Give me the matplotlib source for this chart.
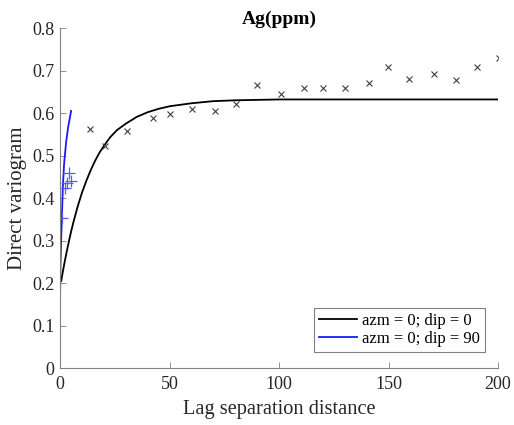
import matplotlib
matplotlib.use("Agg")
import matplotlib.pyplot as plt

# Experimental variogram, azm=0 dip=0 (x markers)
lag_h = [13.6, 20.4, 30.4, 42.3, 50.2, 60.0, 70.9, 80.2, 90.0, 100.7,
         111.4, 119.9, 130.3, 141.0, 149.8, 159.4, 170.6, 180.9, 190.2, 200.3]
gam_h = [0.562, 0.523, 0.558, 0.589, 0.598, 0.609, 0.605, 0.621, 0.665, 0.645,
         0.660, 0.660, 0.658, 0.671, 0.708, 0.679, 0.692, 0.678, 0.709, 0.729]

# Model curve azm=0 dip=0
mod_h_x = [0.5, 1, 2, 3, 4, 5, 6, 8, 10, 12, 14, 16, 18, 20, 23, 26, 30, 35, 40,
           45, 50, 60, 70, 80, 100, 150, 200]
mod_h_y = [0.205, 0.220, 0.248, 0.274, 0.298, 0.321, 0.342, 0.380, 0.413, 0.441,
           0.466, 0.488, 0.507, 0.523, 0.544, 0.560, 0.575, 0.591, 0.602, 0.610,
           0.616, 0.623, 0.628, 0.630, 0.632, 0.632, 0.632]

# Experimental variogram, azm=0 dip=90 (+ markers)
lag_v = [1.0, 2.2, 3.2, 4.1, 5.0]
gam_v = [0.352, 0.424, 0.436, 0.460, 0.440]

# Model curve azm=0 dip=90
mod_v_x = [0.0, 0.15, 0.45, 0.8, 1.25, 1.8, 2.7, 3.6, 5.0]
mod_v_y = [0.180, 0.238, 0.301, 0.356, 0.427, 0.480, 0.530, 0.565, 0.605]

plt.rcParams['font.family'] = ['Liberation Serif', 'DejaVu Serif']

fig = plt.figure(figsize=(5.14, 4.25), dpi=100)
ax = fig.add_axes([0.117, 0.134, 0.852, 0.80])

ax.plot(mod_h_x, mod_h_y, color='black', lw=1.3, label='azm = 0; dip = 0')
ax.plot(mod_v_x, mod_v_y, color='#1a1aff', lw=1.3, label='azm = 0; dip = 90')
ax.plot(lag_h, gam_h, linestyle='none', marker='x', color='#404040', ms=5, mew=0.8)
ax.plot(lag_v, gam_v, linestyle='none', marker='+', color='#5a5aff', ms=8, mew=0.9)

ax.set_xlim(0, 200)
ax.set_ylim(0, 0.8)
ax.set_xticks([0, 50, 100, 150, 200])
ax.set_yticks([0, 0.1, 0.2, 0.3, 0.4, 0.5, 0.6, 0.7, 0.8])
ax.set_yticklabels(['0', '0.1', '0.2', '0.3', '0.4', '0.5', '0.6', '0.7', '0.8'])
for s in ['top', 'right']:
    ax.spines[s].set_visible(False)
for s in ['left', 'bottom']:
    ax.spines[s].set_color('#808080')
    ax.spines[s].set_linewidth(0.8)
ax.tick_params(direction='in', length=4, width=0.6, color='#808080', labelsize=13,
               labelcolor='#262626', pad=4)
ax.tick_params(axis='x', pad=6)

ax.set_xlabel('Lag separation distance', fontsize=14.7, color='#262626', labelpad=5)
ax.set_ylabel('Direct variogram', fontsize=15, color='#262626', labelpad=4)
ax.set_title('Ag(ppm)', fontsize=14, fontweight='bold', pad=3)

leg = ax.legend(loc='lower right', bbox_to_anchor=(0.970, 0.047), borderaxespad=0,
                fontsize=12, fancybox=False, framealpha=1, edgecolor='#808080',
                handlelength=2.3, handletextpad=0.3, borderpad=0.3, labelspacing=0.15)
leg.get_frame().set_linewidth(0.8)

fig.savefig('out.png', dpi=100)
